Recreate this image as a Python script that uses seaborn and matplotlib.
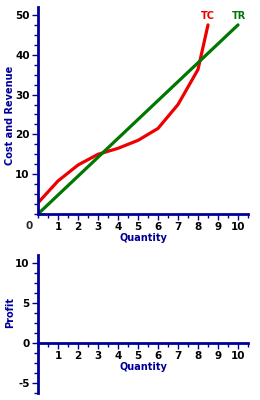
import matplotlib
matplotlib.use("Agg")
import matplotlib.pyplot as plt
import seaborn as sns
import pandas as pd
from matplotlib.ticker import MultipleLocator

# Data
tc_q = [0, 1, 2, 3, 4, 5, 6, 7, 8, 8.5]
tc_v = [2.8, 8.3, 12.3, 15.0, 16.5, 18.5, 21.5, 27.5, 36.3, 47.5]
tr_q = [0, 10]
tr_v = [0, 47.5]
x_ticks = [1, 2, 3, 4, 5, 6, 7, 8, 9, 10]
y_ticks_top = [10, 20, 30, 40, 50]
y_ticks_bot = [-5, 0, 5, 10]

NAVY = "#000099"
RED = "#ee0000"
GREEN = "#007700"

sns.set_style("white")
plt.rcParams['font.family'] = ['DejaVu Sans']
plt.rcParams['font.weight'] = 'bold'

fig = plt.figure(figsize=(2.6, 4.0), dpi=100)
ax1 = fig.add_axes([38/260, 1-214/400, 210/260, 207/400])
ax2 = fig.add_axes([38/260, 1-393/400, 210/260, 138/400])

df_tc = pd.DataFrame({"Quantity": tc_q, "Value": tc_v})
df_tr = pd.DataFrame({"Quantity": tr_q, "Value": tr_v})
sns.lineplot(data=df_tc, x="Quantity", y="Value", ax=ax1, color=RED, lw=2.3, sort=False)
sns.lineplot(data=df_tr, x="Quantity", y="Value", ax=ax1, color=GREEN, lw=2.3)

ax1.set_xlim(0, 10.5)
ax1.set_ylim(0, 52)
ax2.set_xlim(0, 10.5)
ax2.set_ylim(-6.25, 11)
ax2.spines['bottom'].set_position(('data', 0))

fs = 7.5
for ax in (ax1, ax2):
    for s in ("top", "right"):
        ax.spines[s].set_visible(False)
    for s in ("left", "bottom"):
        ax.spines[s].set_color(NAVY)
        ax.spines[s].set_linewidth(2)
    ax.set_xticks(x_ticks)
    ax.set_xticklabels([str(t) for t in x_ticks], fontsize=fs, fontweight='bold')
    ax.xaxis.set_minor_locator(MultipleLocator(0.5))
    ax.tick_params(axis='both', which='both', direction='out', color=NAVY,
                   width=1, length=4, pad=2, labelcolor='black')
    ax.tick_params(axis='both', which='minor', length=3)
    ax.tick_params(axis='x', which='both', bottom=True)
    ax.tick_params(axis='y', which='both', left=True)
    ax.set_facecolor('none')

ax1.set_yticks(y_ticks_top)
ax1.set_yticklabels([str(t) for t in y_ticks_top], fontsize=fs, fontweight='bold')
ax1.yaxis.set_minor_locator(MultipleLocator(2.5))
ax2.set_yticks(y_ticks_bot)
ax2.set_yticklabels([str(t) for t in y_ticks_bot], fontsize=fs, fontweight='bold')
ax2.yaxis.set_minor_locator(MultipleLocator(1.25))

ax1.set_xlabel("Quantity", color=NAVY, fontsize=7, fontweight='bold')
ax1.set_ylabel("Cost and Revenue", color=NAVY, fontsize=7, fontweight='bold')
ax2.set_xlabel("Quantity", color=NAVY, fontsize=7, fontweight='bold')
ax2.set_ylabel("Profit", color=NAVY, fontsize=7, fontweight='bold')

ax1.xaxis.set_label_coords(0.5, (214 - 238) / 207.0)
ax1.xaxis.label.set_va('center')
ax1.yaxis.set_label_coords((10 - 38) / 210.0, (214 - 115) / 207.0)
ax1.yaxis.label.set_va('center')
ax2.xaxis.set_label_coords(0.5, (393 - 367) / 138.0)
ax2.xaxis.label.set_va('center')
ax2.yaxis.set_label_coords((10 - 38) / 210.0, (393 - 312) / 138.0)
ax2.yaxis.label.set_va('center')

ax1.annotate("0", xy=(0, 0), xytext=(-9, -12), textcoords='offset pixels',
             ha='center', va='center', fontsize=fs, fontweight='bold')
ax1.text(8.5, 48.5, "TC", color=RED, fontsize=7, fontweight='bold', ha='center', va='bottom')
ax1.text(10.05, 48.5, "TR", color=GREEN, fontsize=7, fontweight='bold', ha='center', va='bottom')

fig.savefig("out.png", dpi=100)
